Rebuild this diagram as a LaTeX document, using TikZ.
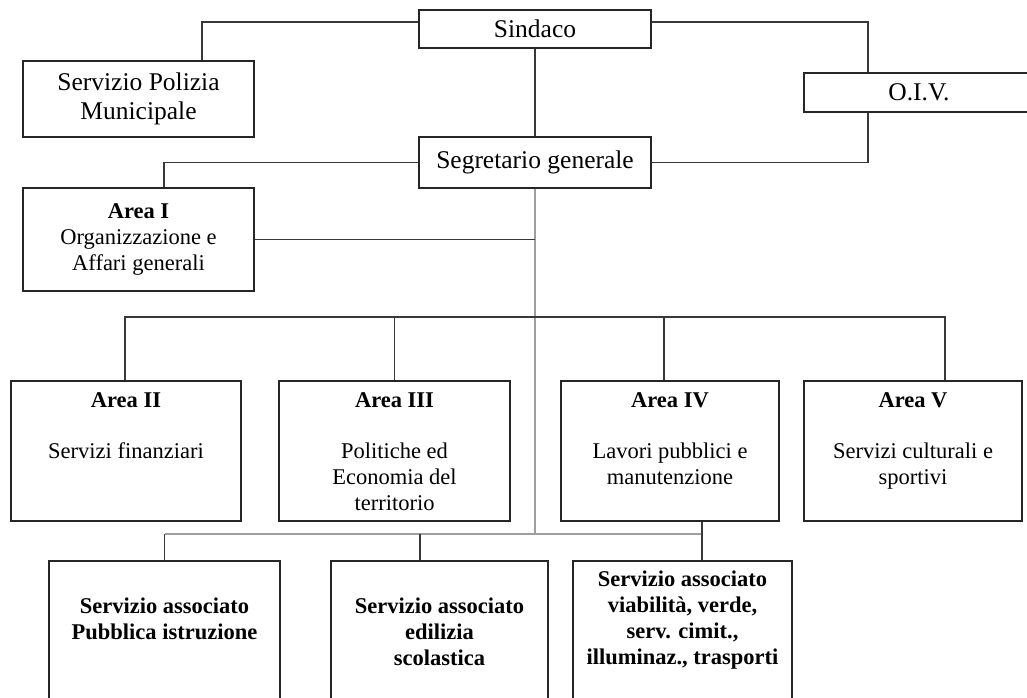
\documentclass[tikz,border=0pt]{standalone}
\usepackage{fontspec}
\setmainfont{Liberation Serif}
\usetikzlibrary{positioning}
\newcommand{\grande}{\fontsize{25.5}{29}\selectfont}
\newcommand{\piccolo}{\fontsize{22.5}{26}\selectfont}
\begin{document}
\begin{tikzpicture}[x=1pt, y=-1pt,
  box/.style={draw=black!85, line width=1.8pt, inner sep=0pt, align=center, font=\grande},
  areabox/.style={draw=black!85, line width=1.8pt, inner sep=0pt, minimum height=140pt},
  servbox/.style={draw=black!85, line width=1.8pt, inner sep=0pt, minimum height=160pt},
  testo/.style={inner sep=0pt, align=center, font=\piccolo},
  linea/.style={draw=black!78, line width=1.6pt},
  tronco/.style={draw=black!38, line width=1.6pt}]
\useasboundingbox (0,0) rectangle (1027,698);
\fill[white] (0,0) rectangle (1027,698);
\clip (0,0) rectangle (1027,698);

\node[box, minimum width=232pt, minimum height=38pt] (sindaco) at (535,29) {Sindaco};
\node[box, minimum width=231pt, minimum height=76pt] (polizia) at (138.5,99) {Servizio Polizia\\Municipale};
\node[box, minimum width=232pt, minimum height=51pt] (segretario) at (535,162.5) {Segretario generale};
\node[box, minimum width=231pt, minimum height=103pt, font=\piccolo] (area1) at (138.5,239.5) {\textbf{Area I}\\Organizzazione e\\Affari generali};
\node[box, minimum width=230pt, minimum height=39pt] (oiv) at (919,92.5) {O.I.V.};

\node[areabox, minimum width=230pt] (area2) at (126,451) {};
\node[areabox, minimum width=231pt] (area3) at (394.5,451) {};
\node[areabox, minimum width=218pt] (area4) at (670,451) {};
\node[areabox, minimum width=218pt] (area5) at (913,451) {};
\node[testo, below=12pt of area2.north] (t2) {\textbf{Area II}\\[25pt]Servizi finanziari};
\node[testo, below=12pt of area3.north] (t3) {\textbf{Area III}\\[25pt]Politiche ed\\Economia del\\territorio};
\node[testo, below=12pt of area4.north] (t4) {\textbf{Area IV}\\[25pt]Lavori pubblici e\\manutenzione};
\node[testo, below=12pt of area5.north] (t5) {\textbf{Area V}\\[25pt]Servizi culturali e\\sportivi};

\node[servbox, minimum width=231pt] (serv1) at (164.5,641) {};
\node[servbox, minimum width=217pt] (serv2) at (439.5,641) {};
\node[servbox, minimum width=219pt] (serv3) at (682.5,641) {};
\node[testo, font=\piccolo\bfseries, below=38pt of serv1.north] (ts1) {Servizio associato\\Pubblica istruzione};
\node[testo, font=\piccolo\bfseries, below=38pt of serv2.north] (ts2) {Servizio associato\\edilizia\\scolastica};
\node[testo, font=\piccolo\bfseries, below=11pt of serv3.north] (ts3) {Servizio associato\\viabilità, verde,\\serv. cimit.,\\illuminaz., trasporti};

\coordinate (busalto) at (535,317);
\coordinate (busbasso) at (535,534);

\draw[linea] ([yshift=7pt]sindaco.west) -| ([xshift=63.5pt]polizia.north);
\draw[linea] (sindaco) -- (segretario);
\draw[linea] ([yshift=7pt]sindaco.east) -| ([xshift=-51pt]oiv.north);
\draw[linea] ([xshift=-51pt]oiv.south) |- (segretario.east);
\draw[linea] (segretario.west) -| ([xshift=25.5pt]area1.north);

\draw[tronco] (segretario.south) -- (busbasso);
\draw[linea] (area1.east) -- (area1.east -| segretario.south);

\draw[linea] ([xshift=-1pt]area2.north) |- (busalto) -| ([xshift=32pt]area5.north);
\draw[linea] (area3.north) -- (area3.north |- busalto);
\draw[linea] ([xshift=-6pt]area4.north) -- ([xshift=-6pt]area4.north |- busalto);

\draw[tronco] (serv1.north |- busbasso) -- ([xshift=19.5pt]serv3.north |- busbasso);
\draw[linea] (serv1.north) -- (serv1.north |- busbasso);
\draw[linea] ([xshift=-19.5pt]serv2.north) -- ([xshift=-19.5pt]serv2.north |- busbasso);
\draw[linea] ([xshift=32pt]area4.south) -- ([xshift=19.5pt]serv3.north);

\end{tikzpicture}
\end{document}
